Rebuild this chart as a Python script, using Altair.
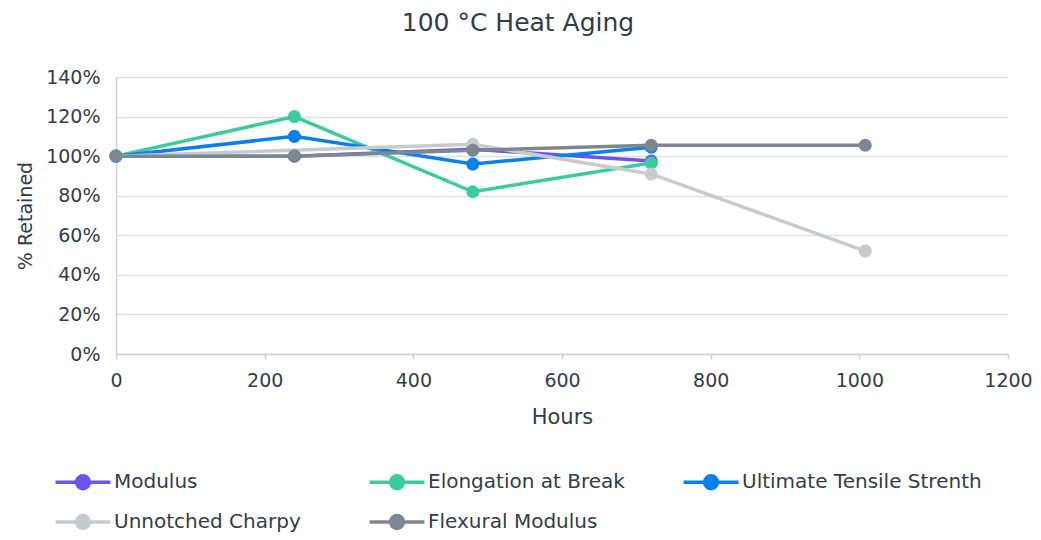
import altair as alt
import pandas as pd

series_names = ["Modulus", "Elongation at Break", "Ultimate Tensile Strenth",
                "Unnotched Charpy", "Flexural Modulus"]
series_colors = ["#6A55F3", "#3CCB9F", "#0A80EC", "#C8CBCD", "#7D8791"]

modulus_hours = [0, 240, 480, 720]
modulus_vals = [1.00, 1.00, 1.035, 0.975]

elong_hours = [0, 240, 480, 720]
elong_vals = [1.00, 1.20, 0.82, 0.965]

uts_hours = [0, 240, 480, 720]
uts_vals = [1.00, 1.10, 0.96, 1.045]

charpy_hours = [0, 480, 720, 1008]
charpy_vals = [1.00, 1.06, 0.91, 0.52]

flex_hours = [0, 240, 480, 720, 1008]
flex_vals = [1.00, 1.00, 1.03, 1.055, 1.055]

rows = []
for name, hrs, vals in [
    (series_names[0], modulus_hours, modulus_vals),
    (series_names[1], elong_hours, elong_vals),
    (series_names[2], uts_hours, uts_vals),
    (series_names[3], charpy_hours, charpy_vals),
    (series_names[4], flex_hours, flex_vals),
]:
    for h, v in zip(hrs, vals):
        rows.append({"Series": name, "Hours": h, "Retained": v,
                     "order": series_names.index(name)})
df = pd.DataFrame(rows)

FONT = "DejaVu Sans"
TXT = "#333D47"
GRID = "#DDE0E6"

symbol_path = ("M-1.83,0H-0.43A0.43,0.43,0,1,1,0.43,0H1.83"
               "M0.43,0A0.43,0.43,0,1,1,-0.43,0A0.43,0.43,0,1,1,0.43,0Z")

chart = alt.Chart(df).mark_line(
    strokeWidth=3.5,
    point=alt.OverlayMarkDef(filled=True, size=170, opacity=1),
).encode(
    x=alt.X("Hours:Q", title="Hours",
            scale=alt.Scale(domain=[0, 1200], nice=False),
            axis=alt.Axis(values=[0, 200, 400, 600, 800, 1000, 1200], grid=False,
                          format="d", labelFlush=False,
                          domainColor="#CDD2DB", domainWidth=1.5,
                          tickColor="#CDD2DB", tickSize=5, tickWidth=1.5,
                          labelFont=FONT, labelFontSize=19, labelColor=TXT,
                          labelPadding=12,
                          titleFont=FONT, titleFontSize=21, titleColor=TXT,
                          titleFontWeight="normal", titlePadding=16)),
    y=alt.Y("Retained:Q", title="% Retained",
            scale=alt.Scale(domain=[0, 1.4], nice=False),
            axis=alt.Axis(values=[0, 0.2, 0.4, 0.6, 0.8, 1.0, 1.2, 1.4], format=".0%",
                          gridColor=GRID, gridWidth=1.5, ticks=False,
                          domainColor="#CDD2DB", domainWidth=1.5,
                          labelFont=FONT, labelFontSize=19, labelColor=TXT,
                          labelPadding=16,
                          titleFont=FONT, titleFontSize=19, titleColor=TXT,
                          titleFontWeight="normal", titlePadding=10)),
    color=alt.Color("Series:N",
                    scale=alt.Scale(domain=series_names, range=series_colors),
                    sort=series_names,
                    legend=alt.Legend(
                        title=None, orient="none", legendX=-50, legendY=388,
                        direction="horizontal", columns=3, gridAlign="all",
                        symbolType=symbol_path, symbolSize=900,
                        symbolStrokeWidth=3.5, symbolOpacity=1,
                        labelFont=FONT, labelFontSize=20, labelColor=TXT,
                        labelLimit=400, labelOffset=14,
                        columnPadding=8, rowPadding=9)),
    order=alt.Order("order:Q"),
    detail="Series:N",
).properties(
    width=892, height=277,
    title=alt.Title("100 °C Heat Aging", font=FONT, fontSize=25, color=TXT,
                    fontWeight="normal", anchor="middle", dx=-44, offset=32),
    padding={"left": 108, "top": 69, "right": 25, "bottom": 178},
    autosize=alt.AutoSizeParams(type="none"),
).configure_view(stroke=None)

chart.save("out.html", embed_options={"renderer": "svg", "actions": False})
